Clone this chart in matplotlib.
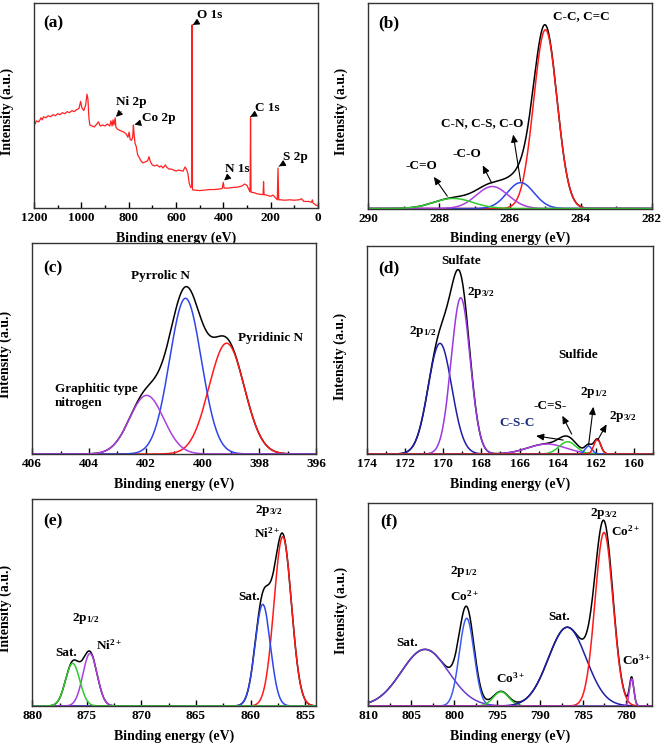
import numpy as np
import matplotlib
matplotlib.use('Agg')
import matplotlib.pyplot as plt
from matplotlib.ticker import MultipleLocator

# fonts: Times-like bold everywhere
plt.rcParams['font.family'] = 'Liberation Serif'
plt.rcParams['font.weight'] = 'bold'
plt.rcParams['axes.labelweight'] = 'bold'
plt.rcParams['mathtext.fontset'] = 'custom'
plt.rcParams['mathtext.rm'] = 'Liberation Serif:bold'
plt.rcParams['mathtext.it'] = 'Liberation Serif:bold'
plt.rcParams['mathtext.bf'] = 'Liberation Serif:bold'

# ---------------- data ----------------
# (a) survey spectrum
survey_be = [1200, 1195, 1190, 1180, 1170, 1165, 1160, 1150, 1140, 1130, 1120, 1110, 1100, 1090,
             1080, 1070, 1060, 1050, 1040, 1030, 1020, 1010, 1003, 998, 990, 982, 976, 972, 968,
             964, 955, 945, 935, 928, 920, 910, 900, 890, 880, 875, 870, 866, 862, 857, 854, 848,
             840, 830, 820, 810, 803, 798, 794, 788, 783, 780, 777, 773, 768, 762, 755, 748, 740,
             730, 720, 714, 708, 700, 690, 680, 670, 662, 655, 645, 640, 630, 620, 610, 600, 590,
             580, 570, 562, 556, 550, 544, 538, 533, 532, 530.5, 528, 520, 500, 480, 460, 440, 420,
             405, 400, 397, 380, 360, 340, 320, 310, 300, 292, 287, 285, 283, 270, 260, 250, 240,
             232, 230, 228, 220, 210, 200, 190, 180, 172, 169, 166, 160, 140, 120, 100, 80, 70, 66,
             60, 40, 27, 24, 21, 10, 0]
survey_int = [0.43, 0.41, 0.425, 0.42, 0.44, 0.43, 0.445, 0.44, 0.45, 0.445, 0.455, 0.45, 0.46, 0.455,
              0.465, 0.46, 0.47, 0.465, 0.475, 0.47, 0.48, 0.485, 0.52, 0.49, 0.475, 0.5, 0.555, 0.53, 0.44,
              0.405, 0.40, 0.395, 0.41, 0.42, 0.40, 0.405, 0.40, 0.41, 0.40, 0.425, 0.40, 0.43, 0.405, 0.44, 0.395, 0.385,
              0.38, 0.375, 0.37, 0.36, 0.345, 0.37, 0.335, 0.33, 0.345, 0.405, 0.36, 0.315, 0.30, 0.26, 0.245, 0.23, 0.22,
              0.225, 0.23, 0.25, 0.225, 0.21, 0.205, 0.21, 0.20, 0.205, 0.195, 0.21, 0.20, 0.19, 0.19, 0.185, 0.18, 0.185,
              0.182, 0.18, 0.20, 0.19, 0.17, 0.12, 0.10, 0.105, 0.893, 0.09, 0.088, 0.087, 0.085, 0.087, 0.09, 0.09, 0.092,
              0.095, 0.125, 0.097, 0.097, 0.10, 0.102, 0.108, 0.117, 0.11, 0.09, 0.08, 0.44, 0.077, 0.075, 0.07, 0.068, 0.066,
              0.065, 0.128, 0.065, 0.064, 0.06, 0.057, 0.063, 0.05, 0.04, 0.195, 0.04, 0.04, 0.038, 0.04, 0.038, 0.04, 0.045, 0.04,
              0.032, 0.032, 0.028, 0.04, 0.025, 0.015, 0.01]

# (b) C 1s components: centre (eV), height, gaussian sigma (eV)
c1s_center = [285.0, 285.7, 286.5, 287.6]
c1s_height = [0.87, 0.126, 0.107, 0.049]
c1s_sigma = [0.33, 0.38, 0.45, 0.55]

# (c) N 1s components: pyridinic, pyrrolic, graphitic
n1s_center = [399.15, 400.6, 401.97]
n1s_height = [0.525, 0.738, 0.278]
n1s_sigma = [0.62, 0.56, 0.6]

# (d) S 2p components
s2p_center = [170.18, 169.09, 164.57, 163.47, 162.37, 161.91]
s2p_height = [0.532, 0.751, 0.048, 0.059, 0.038, 0.07]
s2p_sigma = [0.62, 0.5, 1.0, 0.45, 0.18, 0.18]

# (e) Ni 2p components
ni_center = [857.05, 858.88, 874.71, 876.3]
ni_height = [0.818, 0.491, 0.254, 0.206]
ni_sigma = [0.8, 0.7, 0.65, 0.65]

# (f) Co 2p components
co_center = [803.4, 798.54, 794.55, 786.83, 782.55, 779.33]
co_height = [0.279, 0.432, 0.07, 0.388, 0.855, 0.135]
co_sigma = [2.75, 0.86, 0.9, 2.2, 1.05, 0.25]

# colours
red = '#ff1a1a'
blue = '#2d46ec'
purple = '#ac3ee2'
green = '#2fcb2f'
navy = '#1e1ea8'
c1s_colors = [red, blue, purple, green]
n1s_colors = [red, blue, purple]
s2p_colors = [navy, '#9a38e0', purple, green, '#3050ff', red]
ni_colors = [red, blue, purple, green]
co_colors = ['#6a3cd0', '#3c5cf0', green, navy, red, purple]


def gauss(x, c, h, s):
    return h * np.exp(-(x - c) ** 2 / (2 * s ** 2))


def fit_panel(ax, xlim, centers, heights, sigmas, colors):
    x = np.linspace(min(xlim), max(xlim), 3000)
    comps = [gauss(x, c, h, s) for c, h, s in zip(centers, heights, sigmas)]
    ax.plot(x, np.sum(comps, axis=0), color='k', lw=1.1)
    for y, col in zip(comps, colors):
        ax.plot(x, y, color=col, lw=1.1)


def style(ax, xlim, major, minor, letter, lx, ly):
    ax.set_xlim(xlim)
    ax.set_ylim(0, 1)
    ax.set_yticks([])
    ax.xaxis.set_major_locator(MultipleLocator(major))
    ax.xaxis.set_minor_locator(MultipleLocator(minor))
    ax.tick_params(axis='x', which='both', direction='in', top=False, labelsize=9.5, pad=3, width=1)
    ax.tick_params(axis='x', which='major', length=4)
    ax.tick_params(axis='x', which='minor', length=2.5)
    for sp in ax.spines.values():
        sp.set_linewidth(1.0)
        sp.set_color('#333333')
    ax.set_xlabel('Binding energy (eV)', fontsize=10, labelpad=5)
    ax.set_ylabel('Intensity (a.u.)', fontsize=10)
    ax.yaxis.set_label_coords(-0.07, 0.47)
    ax.text(lx, ly, letter, transform=ax.transAxes, fontsize=12.5, ha='left', va='center')


def arrow(ax, tail, head):
    ax.annotate('', xy=head, xytext=tail,
                arrowprops=dict(arrowstyle='-|>,head_length=0.45,head_width=0.2', color='k', lw=0.8,
                                shrinkA=0, shrinkB=0))


W, H = 661, 746
fig = plt.figure(figsize=(W / 100, H / 100), dpi=100)


def rect(l, r, t, b):
    return [l / W, 1 - b / H, (r - l) / W, (b - t) / H]


ax_a = fig.add_axes(rect(34, 318, 3, 208))
ax_b = fig.add_axes(rect(368.3, 651.7, 3, 208.5))
ax_c = fig.add_axes(rect(32.3, 316, 243, 454))
ax_d = fig.add_axes(rect(367.3, 652.7, 246, 454))
ax_e = fig.add_axes(rect(32.3, 316, 499, 706))
ax_f = fig.add_axes(rect(368.3, 651.7, 503, 706))

# (a) survey
ax_a.plot(survey_be, survey_int, color='#ff2020', lw=0.9)
style(ax_a, (1200, 0), 200, 100, '(a)', 0.032, 0.9)
small = dict(arrowstyle='-|>,head_length=0.4,head_width=0.2', color='k', lw=0.7, shrinkA=1, shrinkB=1)
for txt, tx, ty, px, py in [('O 1s', 512, 0.94, 534, 0.89), ('Ni 2p', 854, 0.517, 858, 0.44),
                            ('Co 2p', 744, 0.44, 781, 0.405), ('C 1s', 266, 0.49, 286, 0.445),
                            ('N 1s', 393, 0.19, 401, 0.13), ('S 2p', 148, 0.25, 170, 0.2)]:
    ax_a.annotate(txt, xy=(px, py), xytext=(tx, ty), fontsize=9.5, ha='left', va='center', arrowprops=small)

# (b) C 1s
fit_panel(ax_b, (290, 282), c1s_center, c1s_height, c1s_sigma, c1s_colors)
style(ax_b, (290, 282), 2, 1, '(b)', 0.035, 0.9)
ax_b.text(284.0, 0.937, 'C-C, C=C', fontsize=9.5, ha='center', va='center')
ax_b.text(286.78, 0.417, 'C-N, C-S, C-O', fontsize=9.5, ha='center', va='center')
ax_b.text(287.21, 0.267, '-C-O', fontsize=9.5, ha='center', va='center')
ax_b.text(288.5, 0.209, '-C=O', fontsize=9.5, ha='center', va='center')
arrow(ax_b, (287.77, 0.06), (288.15, 0.154))
arrow(ax_b, (286.52, 0.125), (286.77, 0.21))
arrow(ax_b, (285.70, 0.133), (285.91, 0.36))

# (c) N 1s
fit_panel(ax_c, (406, 396), n1s_center, n1s_height, n1s_sigma, n1s_colors)
style(ax_c, (406, 396), 2, 1, '(c)', 0.039, 0.88)
ax_c.text(401.5, 0.843, 'Pyrrolic N', fontsize=9.5, ha='center', va='center')
ax_c.text(397.62, 0.551, 'Pyridinic N', fontsize=9.5, ha='center', va='center')
ax_c.text(405.2, 0.275, 'Graphitic type\nnitrogen', fontsize=9.5, ha='left', va='center', linespacing=1.25)

# (d) S 2p
fit_panel(ax_d, (174, 159), s2p_center, s2p_height, s2p_sigma, s2p_colors)
style(ax_d, (174, 159), 2, 1, '(d)', 0.039, 0.894)
ax_d.text(169.09, 0.93, 'Sulfate', fontsize=9.5, ha='center', va='center')
ax_d.text(168.75, 0.776, '2p$_{3/2}$', fontsize=9.5, ha='left', va='center')
ax_d.text(171.07, 0.59, '2p$_{1/2}$', fontsize=9.5, ha='center', va='center')
ax_d.text(162.91, 0.476, 'Sulfide', fontsize=9.5, ha='center', va='center')
ax_d.text(164.38, 0.232, '-C=S-', fontsize=9.5, ha='center', va='center')
ax_d.text(166.11, 0.147, 'C-S-C', fontsize=9.5, ha='center', va='center', color='#1a2a78')
ax_d.text(162.12, 0.295, '2p$_{1/2}$', fontsize=9.5, ha='center', va='center')
ax_d.text(160.55, 0.18, '2p$_{3/2}$', fontsize=9.5, ha='center', va='center')
arrow(ax_d, (163.70, 0.067), (165.13, 0.087))
arrow(ax_d, (163.26, 0.096), (163.75, 0.184))
arrow(ax_d, (162.37, 0.043), (162.12, 0.227))
arrow(ax_d, (161.89, 0.067), (161.42, 0.143))

# (e) Ni 2p
fit_panel(ax_e, (880, 854), ni_center, ni_height, ni_sigma, ni_colors)
style(ax_e, (880, 854), 5, 2.5, '(e)', 0.039, 0.89)
ax_e.text(858.3, 0.943, '2p$_{3/2}$', fontsize=9.5, ha='center', va='center')
ax_e.text(858.5, 0.834, 'Ni$^{2+}$', fontsize=9.5, ha='center', va='center')
ax_e.text(860.14, 0.528, 'Sat.', fontsize=9.5, ha='center', va='center')
ax_e.text(875.08, 0.424, '2p$_{1/2}$', fontsize=9.5, ha='center', va='center')
ax_e.text(872.97, 0.295, 'Ni$^{2+}$', fontsize=9.5, ha='center', va='center')
ax_e.text(876.85, 0.254, 'Sat.', fontsize=9.5, ha='center', va='center')

# (f) Co 2p
fit_panel(ax_f, (810, 777), co_center, co_height, co_sigma, co_colors)
style(ax_f, (810, 777), 5, 2.5, '(f)', 0.041, 0.908)
ax_f.text(782.58, 0.946, '2p$_{3/2}$', fontsize=9.5, ha='center', va='center')
ax_f.text(780.0, 0.859, 'Co$^{2+}$', fontsize=9.5, ha='center', va='center')
ax_f.text(798.86, 0.662, '2p$_{1/2}$', fontsize=9.5, ha='center', va='center')
ax_f.text(798.74, 0.542, 'Co$^{2+}$', fontsize=9.5, ha='center', va='center')
ax_f.text(787.79, 0.44, 'Sat.', fontsize=9.5, ha='center', va='center')
ax_f.text(805.46, 0.309, 'Sat.', fontsize=9.5, ha='center', va='center')
ax_f.text(793.4, 0.136, 'Co$^{3+}$', fontsize=9.5, ha='center', va='center')
ax_f.text(778.71, 0.223, 'Co$^{3+}$', fontsize=9.5, ha='center', va='center')

fig.savefig('out.png', dpi=100)
